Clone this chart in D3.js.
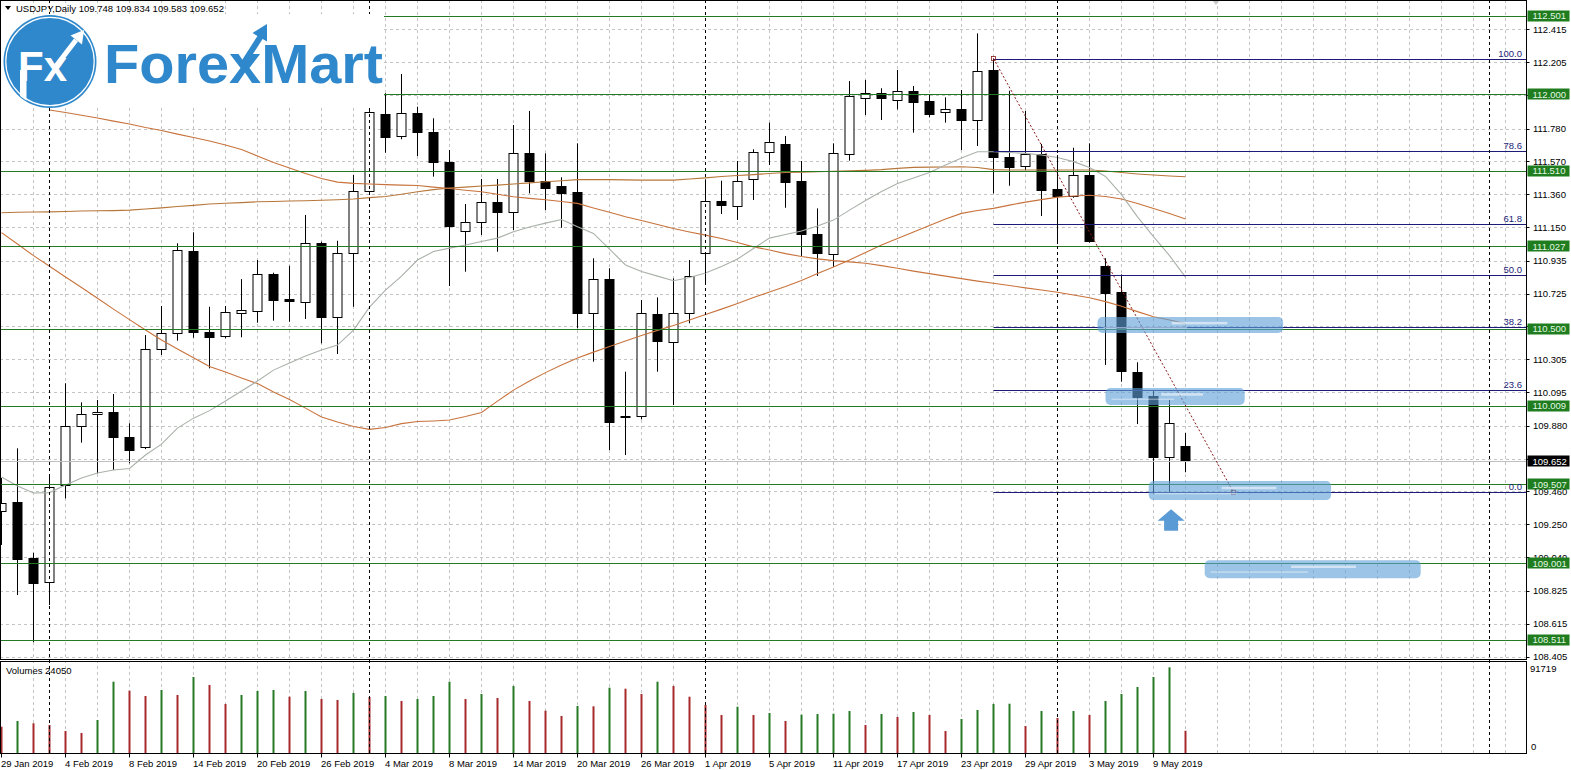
<!DOCTYPE html>
<html lang="en">
  <head>
    <meta charset="UTF-8" />
    <title>USDJPY Daily</title>
    <script src="https://d3js.org/d3.v7.min.js"></script>
    <style>
      body {
        margin: 0;
        background: #fff;
      }
      svg text {
        font-family: "Liberation Sans", Arial, sans-serif;
      }
    </style>
  </head>
  <body>
    <svg width="1571" height="770"></svg>
    <script>
      // daily bars, 29 Jan 2019 .. 13 May 2019
      const open = [109.337,109.395,109.033,108.879,109.501,109.879,109.955,109.966,109.806,109.742,
        110.369,110.471,110.997,110.481,110.450,110.599,110.616,110.850,110.691,110.669,
        111.047,110.574,110.983,111.381,111.873,111.733,111.878,111.756,111.565,111.121,
        111.178,111.309,111.242,111.622,111.447,111.413,111.373,110.599,110.817,109.943,
        109.938,110.593,110.418,110.603,110.987,111.315,111.287,111.456,111.626,111.682,
        111.445,111.104,110.976,111.622,111.974,112.006,111.967,112.022,111.957,111.884,
        111.903,111.835,112.155,111.597,111.541,111.616,111.392,111.349,111.483,110.902,
        110.733,110.226,110.070,109.678,109.748];
      const high = [109.546,109.736,109.068,109.572,110.152,110.030,110.045,110.083,109.896,110.460,
        110.646,111.047,111.117,110.641,110.646,110.818,110.940,110.859,110.903,111.228,
        111.057,111.063,111.483,111.903,112.006,112.129,111.920,111.846,111.643,111.298,
        111.458,111.458,111.803,111.893,111.622,111.469,111.686,110.951,110.887,110.226,
        110.684,110.701,110.823,110.940,111.456,111.447,111.573,111.648,111.818,111.733,
        111.573,111.270,111.686,112.084,112.091,112.038,112.155,112.052,111.995,111.980,
        112.027,112.389,112.228,112.022,111.893,111.682,111.611,111.658,111.686,110.951,
        110.848,110.286,110.109,110.045,109.834];
      const low = [109.118,108.798,108.497,108.734,109.416,109.772,109.576,109.597,109.640,109.731,
        110.333,110.424,110.443,110.247,110.439,110.446,110.539,110.552,110.545,110.563,
        110.407,110.339,110.641,111.368,111.626,111.712,111.605,111.473,110.774,110.865,
        111.100,110.993,111.132,111.366,111.260,111.146,110.503,110.290,109.725,109.693,
        109.921,110.226,110.013,110.535,110.791,111.234,111.196,111.324,111.547,111.274,
        110.966,110.838,110.897,111.575,111.867,111.835,111.903,111.754,111.852,111.818,
        111.643,111.669,111.366,111.415,111.515,111.221,111.042,111.338,111.051,110.269,
        110.162,109.891,109.448,109.458,109.583];
      const close = [109.388,109.033,108.873,109.487,109.879,109.953,109.966,109.806,109.721,110.369,
        110.471,111.004,110.478,110.446,110.606,110.620,110.850,110.684,110.676,111.047,
        110.571,110.983,111.381,111.884,111.728,111.878,111.754,111.565,111.153,111.181,
        111.309,111.242,111.622,111.441,111.405,111.366,110.599,110.817,109.900,109.938,
        110.599,110.418,110.603,110.840,111.319,111.287,111.447,111.629,111.692,111.441,
        111.106,110.983,111.622,111.990,112.006,111.974,112.022,111.952,111.873,111.903,
        111.835,112.150,111.597,111.533,111.616,111.388,111.345,111.483,111.063,110.731,
        110.226,110.066,109.682,109.896,109.652];
      const volume = [28370,34450,32000,30180,23780,21650,35510,76360,66760,61110,
        67510,62180,81370,72840,52580,62180,66440,67510,60360,66440,
        57910,56840,64310,60040,61110,55780,57910,61110,76360,57910,
        63240,58980,71780,55780,45430,39780,50450,50120,69960,68900,
        63240,76360,71780,60360,51510,40850,49700,40850,42980,34450,
        41170,41910,42230,45110,30180,41910,38710,44050,40850,23780,
        36580,46180,52580,52900,29110,45110,37650,45110,40850,55780,
        63240,70710,81370,91719,24050];

      // moving averages as drawn on the chart
      const maGrey = [109.552,109.495,109.450,109.453,109.501,109.546,109.578,109.597,109.607,109.693,
        109.763,109.865,109.929,109.977,110.038,110.102,110.166,110.236,110.281,110.326,
        110.364,110.396,110.492,110.639,110.748,110.837,110.940,110.994,111.016,111.036,
        111.058,111.080,111.121,111.151,111.176,111.199,111.153,111.110,111.010,110.908,
        110.866,110.837,110.807,110.828,110.857,110.898,110.946,111.014,111.080,111.103,
        111.125,111.157,111.195,111.259,111.320,111.378,111.429,111.464,111.499,111.547,
        111.592,111.632,111.632,111.627,111.622,111.611,111.595,111.569,111.531,111.474,
        111.358,111.216,111.089,110.968,110.831];
      const maFast = [111.115,111.042,110.968,110.900,110.831,110.764,110.695,110.626,110.559,110.492,
        110.428,110.371,110.315,110.259,110.224,110.185,110.150,110.096,110.048,109.993,
        109.936,109.904,109.875,109.857,109.869,109.894,109.907,109.911,109.917,109.939,
        109.965,110.038,110.108,110.166,110.220,110.268,110.313,110.351,110.387,110.422,
        110.457,110.490,110.521,110.556,110.591,110.626,110.662,110.700,110.735,110.770,
        110.809,110.853,110.895,110.940,110.988,111.036,111.077,111.119,111.160,111.202,
        111.238,111.256,111.270,111.291,111.310,111.326,111.342,111.349,111.354,111.346,
        111.330,111.301,111.269,111.237,111.202];
      const maSlow = [111.242,111.245,111.247,111.248,111.250,111.253,111.255,111.256,111.259,111.266,
        111.273,111.282,111.289,111.298,111.303,111.307,111.312,111.314,111.317,111.319,
        111.322,111.325,111.330,111.339,111.346,111.360,111.376,111.390,111.400,111.406,
        111.413,111.419,111.426,111.433,111.440,111.447,111.454,111.454,111.454,111.452,
        111.451,111.451,111.451,111.458,111.465,111.474,111.480,111.486,111.493,111.499,
        111.502,111.504,111.507,111.510,111.513,111.518,111.526,111.532,111.534,111.535,
        111.536,111.531,111.518,111.515,111.515,111.515,111.515,111.515,111.515,111.509,
        111.499,111.490,111.483,111.477,111.472];
      const maMid = [null,null,null,111.899,111.883,111.865,111.848,111.828,111.809,111.787,
        111.768,111.745,111.723,111.701,111.675,111.646,111.605,111.563,111.528,111.493,
        111.461,111.438,111.430,111.426,111.422,111.419,111.416,111.406,111.397,111.386,
        111.376,111.360,111.344,111.334,111.325,111.314,111.302,111.272,111.245,111.216,
        111.192,111.167,111.141,111.119,111.099,111.077,111.052,111.024,111.004,110.981,
        110.962,110.947,110.936,110.928,110.919,110.904,110.887,110.869,110.853,110.837,
        110.821,110.805,110.791,110.777,110.762,110.748,110.734,110.716,110.699,110.674,
        110.644,110.610,110.577,110.556,110.534];

      const priceTicks = [112.415,112.205,111.995,111.780,111.570,111.360,111.150,110.935,110.725,110.515,
        110.305,110.095,109.880,109.670,109.460,109.250,109.040,108.825,108.615,108.405];
      const levels = [112.501,112.000,111.510,111.027,110.500,110.009,109.507,109.001,108.511];
      const bid = 109.652;

      const fibStart = { i: 62, p: 112.228 };
      const fibEnd = { i: 77, p: 109.455 };
      const fibRatios = [0, 23.6, 38.2, 50.0, 61.8, 78.6, 100.0];

      const dateLabels = ["29 Jan 2019","4 Feb 2019","8 Feb 2019","14 Feb 2019","20 Feb 2019","26 Feb 2019",
        "4 Mar 2019","8 Mar 2019","14 Mar 2019","20 Mar 2019","26 Mar 2019","1 Apr 2019","5 Apr 2019",
        "11 Apr 2019","17 Apr 2019","23 Apr 2019","29 Apr 2019","3 May 2019","9 May 2019"];
      const separators = [3, 23, 44, 66, 93];

      // hand drawn marker strokes: [from bar, to bar, top price, bottom price]
      const highlights = [
        [68.5, 80.1, 110.575, 110.473],
        [69.0, 77.7, 110.121, 110.013],
        [71.7, 83.1, 109.527, 109.405],
        [75.2, 88.7, 109.021, 108.906]
      ];
      const arrowMark = { i: 73.1, tip: 109.347, base: 109.273, foot: 109.209 };

      const svg = d3.select("svg");
      const width = +svg.attr("width");
      const height = +svg.attr("height");

      const plotRight = 1526.5;
      const priceBottom = 659.5, volTop = 661.5, volBottom = 753.5;

      const x = d3.scaleLinear().domain([0, 95]).range([1.5, 1521.5]);
      const y = d3.scaleLinear().domain([108.405, 112.415]).range([656.5, 29.3]);
      const yVol = d3.scaleLinear().domain([0, 91719]).range([753.3, 667.3]);
      const py = (p) => Math.round(y(p)) + 0.5;

      svg.append("rect").attr("width", width).attr("height", height).attr("fill", "#fff");

      const defs = svg.append("defs");
      defs.append("clipPath").attr("id", "pclip")
        .append("rect").attr("x", 0).attr("y", 0).attr("width", plotRight).attr("height", priceBottom);
      defs.append("clipPath").attr("id", "vclip")
        .append("rect").attr("x", 0).attr("y", volTop).attr("width", plotRight).attr("height", volBottom - volTop);
      defs.append("clipPath").attr("id", "logoclip")
        .append("circle").attr("cx", 50).attr("cy", 61.5).attr("r", 45.5);

      const price = svg.append("g").attr("clip-path", "url(#pclip)");
      const vol = svg.append("g").attr("clip-path", "url(#vclip)");

      // grid
      const gridCols = d3.range(2, 95, 2);
      [price, vol].forEach((g) => {
        g.selectAll(null).data(gridCols).enter().append("line")
          .attr("x1", (d) => x(d)).attr("x2", (d) => x(d))
          .attr("y1", 0).attr("y2", volBottom)
          .attr("stroke", "#c4c4c4").attr("stroke-dasharray", "3,3");
      });
      price.selectAll(null).data(priceTicks).enter().append("line")
        .attr("x1", 0).attr("x2", plotRight)
        .attr("y1", py).attr("y2", py)
        .attr("stroke", "#c4c4c4").attr("stroke-dasharray", "3,3");

      // candles
      const bars = open.map((o, i) => ({ i, o, h: high[i], l: low[i], c: close[i] }));
      price.selectAll(".wick").data(bars).enter().append("line")
        .attr("x1", (d) => x(d.i)).attr("x2", (d) => x(d.i))
        .attr("y1", (d) => y(d.h)).attr("y2", (d) => y(d.l))
        .attr("stroke", "#000");
      price.selectAll(".body").data(bars).enter().append("rect")
        .attr("x", (d) => x(d.i) - 4.5)
        .attr("width", 9)
        .attr("y", (d) => Math.round(y(Math.max(d.o, d.c))) + 0.5)
        .attr("height", (d) => Math.max(1, Math.round(Math.abs(y(d.o) - y(d.c)))))
        .attr("fill", (d) => (d.c > d.o ? "#fff" : "#000"))
        .attr("stroke", "#000");

      // bid line
      price.append("line").attr("x1", 0).attr("x2", plotRight)
        .attr("y1", py(bid)).attr("y2", py(bid)).attr("stroke", "#c0c0c0");

      // moving averages
      const maLine = d3.line().defined((d) => d != null).x((d, i) => x(i)).y((d) => y(d));
      [[maSlow, "#b8773a"], [maMid, "#c8733d"], [maFast, "#c8733d"], [maGrey, "#a9b1a9"]].forEach(([s, col]) => {
        price.append("path").datum(s).attr("d", maLine)
          .attr("fill", "none").attr("stroke", col).attr("stroke-width", 1.1);
      });

      // horizontal levels
      price.selectAll(".lvl").data(levels).enter().append("line")
        .attr("x1", 0).attr("x2", plotRight)
        .attr("y1", py).attr("y2", py)
        .attr("stroke", "#237a23");

      // fibonacci
      const fibPrice = (r) => fibEnd.p + (fibStart.p - fibEnd.p) * r / 100;
      price.selectAll(".fib").data(fibRatios).enter().append("line")
        .attr("x1", x(fibStart.i)).attr("x2", plotRight)
        .attr("y1", (d) => py(fibPrice(d))).attr("y2", (d) => py(fibPrice(d)))
        .attr("stroke", "#1c1c78");
      price.selectAll(".fibtxt").data(fibRatios).enter().append("text")
        .attr("x", 1522).attr("y", (d) => py(fibPrice(d)) - 2.5)
        .attr("text-anchor", "end").attr("font-size", 9.5).attr("fill", "#1c1c78")
        .text((d) => d.toFixed(1));
      price.append("line")
        .attr("x1", x(fibStart.i)).attr("y1", y(fibStart.p))
        .attr("x2", x(fibEnd.i)).attr("y2", y(fibEnd.p))
        .attr("stroke", "#8b1a1a").attr("stroke-dasharray", "2,2");
      [fibStart, fibEnd].forEach((d) => {
        price.append("rect").attr("x", x(d.i) - 2).attr("y", y(d.p) - 2)
          .attr("width", 4).attr("height", 4).attr("fill", "none").attr("stroke", "#8b1a1a").attr("stroke-width", 0.8);
      });

      // period separators
      svg.selectAll(".sep").data(separators).enter().append("line")
        .attr("x1", (d) => x(d)).attr("x2", (d) => x(d))
        .attr("y1", 0).attr("y2", volBottom)
        .attr("stroke", "#000").attr("stroke-dasharray", "3,3");

      // blue marker strokes
      highlights.forEach(([a, b, top, bot]) => {
        const x0 = x(a), x1 = x(b), y0 = y(top), y1 = y(bot);
        price.append("rect").attr("x", x0).attr("y", y0).attr("width", x1 - x0).attr("height", y1 - y0)
          .attr("rx", 5).attr("fill", "#5f9fd6").attr("opacity", 0.62);
        price.append("rect").attr("x", x0 + (x1 - x0) * 0.4).attr("y", y0 + (y1 - y0) * 0.3)
          .attr("width", (x1 - x0) * 0.3).attr("height", 2.5).attr("fill", "#fff").attr("opacity", 0.55);
        price.append("rect").attr("x", x0 + 6).attr("y", y0 + (y1 - y0) * 0.62)
          .attr("width", (x1 - x0) * 0.45).attr("height", 1.5).attr("fill", "#fff").attr("opacity", 0.4);
      });
      const ax = x(arrowMark.i);
      price.append("path")
        .attr("d", `M${ax},${y(arrowMark.tip)} L${ax + 13.5},${y(arrowMark.base)} L${ax + 7},${y(arrowMark.base)}
          L${ax + 7},${y(arrowMark.foot)} L${ax - 7},${y(arrowMark.foot)} L${ax - 7},${y(arrowMark.base)}
          L${ax - 13.5},${y(arrowMark.base)} Z`)
        .attr("fill", "#5b9bd5");

      // volumes
      vol.selectAll(".vbar").data(volume).enter().append("rect")
        .attr("x", (d, i) => x(i) - 1)
        .attr("width", 2)
        .attr("y", (d) => yVol(d))
        .attr("height", (d) => yVol(0) - yVol(d))
        .attr("fill", (d, i) => (i > 0 && d > volume[i - 1] ? "#267a26" : "#a62a2a"));

      // logo
      const logo = svg.append("g");
      logo.append("rect").attr("x", 0).attr("y", 14).attr("width", 384).attr("height", 93.5).attr("fill", "#fff");
      logo.append("circle").attr("cx", 50).attr("cy", 61.5).attr("r", 46.5).attr("fill", "#2f88cb");
      logo.append("circle").attr("cx", 50).attr("cy", 61.5).attr("r", 44.2)
        .attr("fill", "none").attr("stroke", "#fff").attr("stroke-width", 1.2);
      logo.append("rect").attr("x", 20).attr("y", 70).attr("width", 6.5).attr("height", 40)
        .attr("fill", "#fff").attr("clip-path", "url(#logoclip)");
      logo.append("text").attr("x", 18).attr("y", 80.5)
        .attr("font-family", "'Open Sans', 'DejaVu Sans', sans-serif")
        .attr("font-weight", 700).attr("font-size", 42).attr("fill", "#fff").text("Fx");
      logo.append("line").attr("x1", 56).attr("y1", 66).attr("x2", 76).attr("y2", 40)
        .attr("stroke", "#fff").attr("stroke-width", 5);
      logo.append("path").attr("d", "M84,30 L70.5,35.5 L82,44.5 Z").attr("fill", "#fff");
      logo.append("text").attr("x", 104).attr("y", 83)
        .attr("font-family", "'Open Sans', 'DejaVu Sans', sans-serif")
        .attr("font-weight", 700).attr("font-size", 56)
        .attr("textLength", 279).attr("lengthAdjust", "spacingAndGlyphs")
        .attr("fill", "#2f88cb").text("ForexMart");
      logo.append("line").attr("x1", 243).attr("y1", 64).attr("x2", 261).attr("y2", 36)
        .attr("stroke", "#2f88cb").attr("stroke-width", 6);
      logo.append("path").attr("d", "M267,24 L252.5,33 L267,41.5 Z").attr("fill", "#2f88cb");

      // header
      svg.append("path").attr("d", "M5,6 L11,6 L8,10 Z").attr("fill", "#000");
      svg.append("text").attr("x", 16).attr("y", 12).attr("font-size", 9.5).attr("fill", "#000")
        .text("USDJPY,Daily  109.748 109.834 109.583 109.652");
      svg.append("path").attr("d", "M1212,0 L1220,0 L1216,5 Z").attr("fill", "#c8c8c8");

      // frames
      const frame = svg.append("g").attr("fill", "none").attr("stroke", "#000");
      frame.append("rect").attr("x", 0.5).attr("y", 0.5).attr("width", plotRight - 0.5).attr("height", priceBottom - 0.5);
      frame.append("rect").attr("x", 0.5).attr("y", volTop).attr("width", plotRight - 0.5).attr("height", volBottom - volTop);

      // right axis
      const axisR = svg.append("g");
      axisR.selectAll("line").data(priceTicks).enter().append("line")
        .attr("x1", plotRight).attr("x2", plotRight + 3).attr("y1", py).attr("y2", py).attr("stroke", "#000");
      axisR.selectAll("text").data(priceTicks).enter().append("text")
        .attr("x", 1533).attr("y", (d) => y(d) + 3.5).attr("font-size", 9.5).attr("fill", "#000")
        .text((d) => d.toFixed(3));
      const tags = levels.map((p) => ({ p, bg: "#1f7d1f", fg: "#e4f7e4" }))
        .concat([{ p: bid, bg: "#000", fg: "#fff" }]);
      tags.forEach((t) => {
        axisR.append("rect").attr("x", 1527.5).attr("y", Math.round(y(t.p)) - 5.5)
          .attr("width", 42).attr("height", 11).attr("fill", t.bg);
        axisR.append("text").attr("x", 1532.5).attr("y", y(t.p) + 3.5)
          .attr("font-size", 9.5).attr("fill", t.fg).text(t.p.toFixed(3));
      });
      axisR.append("text").attr("x", 1530).attr("y", 672).attr("font-size", 9.5).text("91719");
      axisR.append("text").attr("x", 1531).attr("y", 750).attr("font-size", 9.5).text("0");
      svg.append("text").attr("x", 6).attr("y", 674).attr("font-size", 9.5).text("Volumes 24050");

      // bottom axis
      const axisB = svg.append("g");
      axisB.selectAll("line").data(dateLabels).enter().append("line")
        .attr("x1", (d, k) => x(k * 4)).attr("x2", (d, k) => x(k * 4))
        .attr("y1", volBottom).attr("y2", volBottom + 4).attr("stroke", "#000");
      axisB.selectAll("text").data(dateLabels).enter().append("text")
        .attr("x", (d, k) => x(k * 4) - 0.5).attr("y", 767)
        .attr("font-size", 9.5).attr("fill", "#000").text((d) => d);
    </script>
  </body>
</html>
